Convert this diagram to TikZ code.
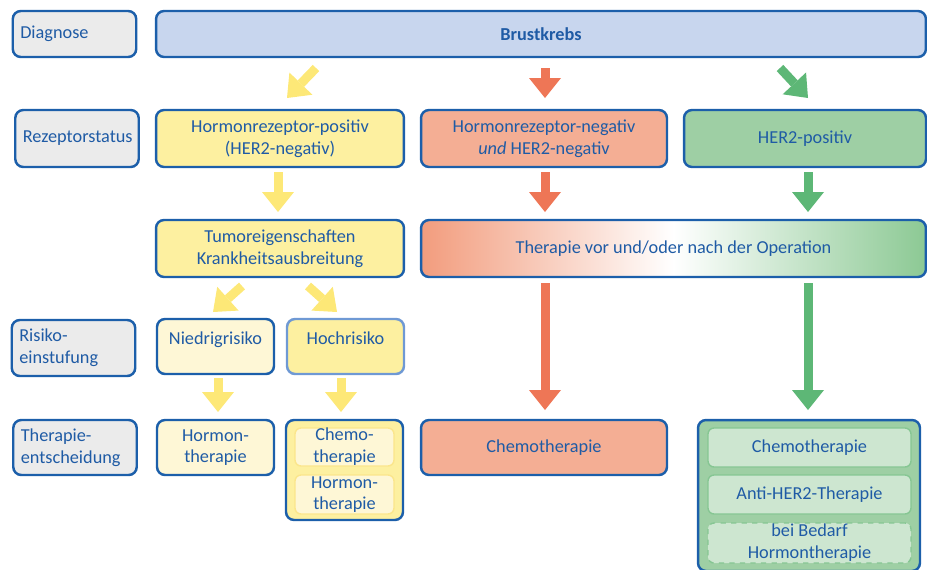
\documentclass[tikz,border=0pt]{standalone}
\usepackage{fontspec}
\setmainfont{Carlito}
\usetikzlibrary{arrows.meta}

\definecolor{bblue}{HTML}{1C5FAA}
\definecolor{tblue}{HTML}{1F5BA5}
\definecolor{lgray}{HTML}{EBEBEB}
\definecolor{brustfill}{HTML}{C8D6EE}
\definecolor{yelfill}{HTML}{FDF0A0}
\definecolor{yellight}{HTML}{FEF7D6}
\definecolor{yelline}{HTML}{FBE68C}
\definecolor{yelarrow}{HTML}{FDE877}
\definecolor{redfill}{HTML}{F4AE94}
\definecolor{redgrad}{HTML}{F29C7D}
\definecolor{redarrow}{HTML}{EE7656}
\definecolor{greenfill}{HTML}{9ECFA4}
\definecolor{greengrad}{HTML}{8CC994}
\definecolor{greenlight}{HTML}{CDE6D0}
\definecolor{greenline}{HTML}{86C693}
\definecolor{greenarrow}{HTML}{5DB776}
\definecolor{hochline}{HTML}{6F99D4}

\tikzset{
  box/.style={draw=bblue, line width=1.4pt, rounded corners=0.16cm, text=tblue,
    align=center, inner sep=0pt, font=\fontsize{10.4}{12.4}\selectfont},
  stagebox/.style={box, fill=lgray, align=left, text width=2.17cm, inner xsep=0.15cm},
  innerbox/.style={box, line width=0.8pt, rounded corners=0.12cm},
  fatarrow/.style={line width=0.18cm, -{Triangle[width=0.64cm,length=0.4cm,line width=0pt]}}
}

\begin{document}
\begin{tikzpicture}[x=0.02cm,y=-0.02cm]
\useasboundingbox (0,0) rectangle (927,569);

\node[stagebox, minimum height=0.92cm] (diag) at (74.5,34) {Diagnose};
\node[stagebox, minimum height=1.14cm] (rez) at (77,138.5) {Rezeptorstatus};
\node[stagebox, minimum height=1.12cm] (risk) at (73.5,348) {Risiko-\\einstufung};
\node[stagebox, minimum height=1.1cm] (ther) at (75,447.5) {Therapie-\\entscheidung};

\node[box, fill=brustfill, minimum width=15.4cm, minimum height=0.92cm] (brust) at (541,34) {\textbf{Brustkrebs}};

\node[box, fill=yelfill, minimum width=4.96cm, minimum height=1.14cm] (hrpos) at (280,138.5) {Hormonrezeptor-positiv\\(HER2-negativ)};
\node[box, fill=redfill, minimum width=4.92cm, minimum height=1.14cm] (hrneg) at (544,138.5) {Hormonrezeptor-negativ\\\textit{und} HER2-negativ};
\node[box, fill=greenfill, minimum width=4.84cm, minimum height=1.14cm] (her2) at (805,138.5) {HER2-positiv};

\node[box, fill=yelfill, minimum width=4.96cm, minimum height=1.14cm] (tumor) at (280,248.5) {Tumoreigenschaften\\Krankheitsausbreitung};
\node[box, left color=redgrad, right color=greengrad, middle color=white, minimum width=10.1cm, minimum height=1.14cm] (therop) at (673.5,248.5) {Therapie vor und/oder nach der Operation};

\node[box, fill=yellight, minimum width=2.34cm, minimum height=1.1cm, text depth=10pt] (niedrig) at (215.5,346.5) {Niedrigrisiko};
\node[box, draw=hochline, fill=yelfill, minimum width=2.34cm, minimum height=1.1cm, text depth=10pt] (hoch) at (345.5,346.5) {Hochrisiko};

\node[box, fill=yellight, minimum width=2.34cm, minimum height=1.1cm] (hormon) at (215.5,447.5) {Hormon-\\therapie};
\node[box, fill=yelfill, minimum width=2.34cm, minimum height=2cm] (chohor) at (344.5,470) {};
\node[innerbox, draw=yelline, fill=yellight, minimum width=1.98cm, minimum height=0.76cm] (chemoA) at (344.5,447) {Chemo-\\therapie};
\node[innerbox, draw=yelline, fill=yellight, minimum width=1.98cm, minimum height=0.78cm] (hormonA) at (344.5,494.5) {Hormon-\\therapie};

\node[box, fill=redfill, minimum width=4.92cm, minimum height=1.1cm] (chemo) at (544,447.5) {Chemotherapie};

\node[box, fill=greenfill, minimum width=4.44cm, minimum height=3.02cm] (green) at (809,495.5) {};
\node[innerbox, draw=greenline, fill=greenlight, minimum width=4.06cm, minimum height=0.78cm] (chemoB) at (809.5,447.5) {Chemotherapie};
\node[innerbox, draw=greenline, fill=greenlight, minimum width=4.06cm, minimum height=0.78cm] (antiher) at (809.5,494.5) {Anti-HER2-Therapie};
\node[innerbox, draw=greenline, fill=greenlight, dashed, minimum width=4.06cm, minimum height=0.8cm] (bedarf) at (809.5,543) {bei Bedarf\\Hormontherapie};

\coordinate (brustL) at (316,68);
\coordinate (brustM) at (545,68);
\coordinate (brustR) at (780,68);
\coordinate (hrposT) at (287,98);
\coordinate (hrnegT) at (545,98);
\coordinate (her2T) at (808,98);
\coordinate (hrposB) at (278,172);
\coordinate (hrnegB) at (545,172);
\coordinate (her2B) at (808,172);
\coordinate (tumorT) at (278,212);
\coordinate (theropL) at (545,212);
\coordinate (theropR) at (808,212);
\coordinate (tumorBL) at (242,286);
\coordinate (tumorBR) at (308,286);
\coordinate (niedrigT) at (213,312);
\coordinate (hochT) at (337,312);
\coordinate (niedrigB) at (218,378);
\coordinate (hochB) at (341,378);
\coordinate (hormonT) at (218,412);
\coordinate (chohorT) at (341,412);
\coordinate (theropBL) at (545,283);
\coordinate (theropBR) at (808,283);
\coordinate (chemoT) at (545,410);
\coordinate (greenT) at (808,410);

\foreach \from/\to in {brustL/hrposT, hrposB/tumorT, tumorBL/niedrigT, tumorBR/hochT, niedrigB/hormonT, hochB/chohorT}
	\draw[fatarrow, yelarrow] (\from) -- (\to);
\foreach \from/\to in {brustM/hrnegT, hrnegB/theropL, theropBL/chemoT}
	\draw[fatarrow, redarrow] (\from) -- (\to);
\foreach \from/\to in {brustR/her2T, her2B/theropR, theropBR/greenT}
	\draw[fatarrow, greenarrow] (\from) -- (\to);
\end{tikzpicture}
\end{document}
